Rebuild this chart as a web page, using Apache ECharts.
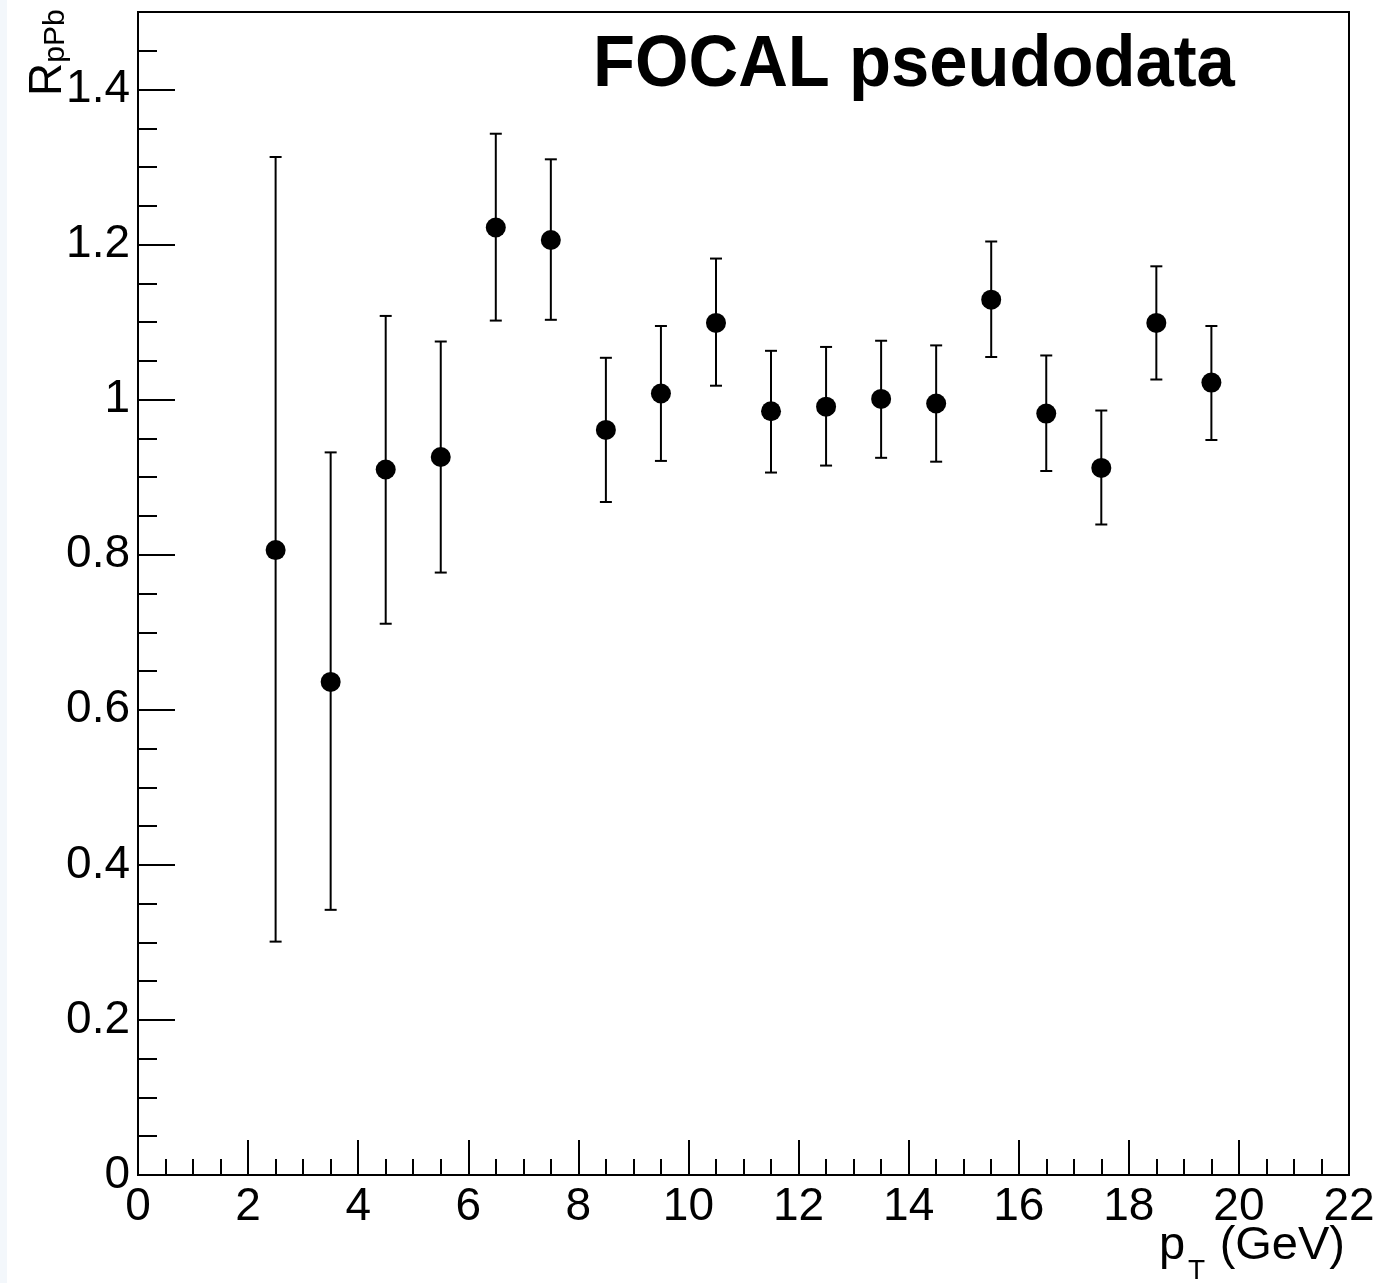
<!DOCTYPE html>
<html>
<head>
<meta charset="utf-8">
<script src="https://cdn.jsdelivr.net/npm/echarts@6/dist/echarts.min.js"></script>
<style>
  html, body { margin: 0; padding: 0; background: #fff; }
  #chart { width: 1400px; height: 1283px; }
</style>
</head>
<body>
<div id="chart"></div>
<script>
const ptCenters = [2.5, 3.5, 4.5, 5.5, 6.5, 7.5, 8.5, 9.5, 10.5, 11.5, 12.5, 13.5, 14.5, 15.5, 16.5, 17.5, 18.5, 19.5]
const rpPb = [0.806, 0.636, 0.910, 0.926, 1.222, 1.206, 0.961, 1.008, 1.099, 0.985, 0.991, 1.001, 0.995, 1.129, 0.982, 0.912, 1.099, 1.022]
const errLow = [0.301, 0.342, 0.711, 0.777, 1.102, 1.103, 0.868, 0.921, 1.018, 0.906, 0.915, 0.925, 0.920, 1.055, 0.908, 0.839, 1.026, 0.948]
const errHigh = [1.313, 0.932, 1.108, 1.075, 1.343, 1.310, 1.054, 1.095, 1.182, 1.063, 1.068, 1.076, 1.070, 1.204, 1.057, 0.986, 1.172, 1.095]

const FONT = '"Liberation Sans", Arial, Helvetica, sans-serif'
const TEXT_COLOR = '#000'

const chart = echarts.init(document.getElementById('chart'))

chart.setOption({
  animation: false,
  backgroundColor: '#fff',
  grid: {
    left: 138,
    top: 12,
    right: 51,
    bottom: 108,
    show: true,
    borderColor: '#000',
    borderWidth: 2,
  },
  xAxis: {
    type: 'value',
    min: 0,
    max: 22,
    interval: 2,
    axisLine: { lineStyle: { color: '#000', width: 2 } },
    axisTick: { inside: true, length: 35, lineStyle: { color: '#000', width: 2 } },
    minorTick: { show: true, splitNumber: 4, length: 16, lineStyle: { color: '#000', width: 2 } },
    splitLine: { show: false },
    axisLabel: { color: TEXT_COLOR, fontSize: 46, fontFamily: FONT, margin: 9 },
  },
  yAxis: {
    type: 'value',
    min: 0,
    max: 1.5,
    interval: 0.2,
    axisLine: { lineStyle: { color: '#000', width: 2 } },
    axisTick: { inside: true, length: 37, lineStyle: { color: '#000', width: 2 } },
    minorTick: { show: true, splitNumber: 4, length: 19, lineStyle: { color: '#000', width: 2 } },
    splitLine: { show: false },
    axisLabel: {
      color: TEXT_COLOR,
      fontSize: 46,
      fontFamily: FONT,
      margin: 8,
      showMaxLabel: false,
      formatter: (v) => (Math.abs(v - 1.5) < 1e-9 ? '' : String(Math.round(v * 10) / 10)),
    },
  },
  graphic: [
    {
      type: 'rect',
      shape: { x: 0, y: 0, width: 7, height: 1283 },
      style: { fill: '#f3f7fb' },
      silent: true,
    },
    {
      type: 'text',
      x: 593,
      y: 30,
      scaleX: 0.955,
      style: {
        text: 'FOCAL pseudodata',
        font: 'bold 72px ' + FONT,
        fill: TEXT_COLOR,
      },
    },
    {
      type: 'text',
      x: 22,
      y: 96,
      rotation: Math.PI / 2,
      style: {
        text: '{r|R}{s|pPb}',
        fill: TEXT_COLOR,
        rich: {
          r: { fontSize: 46, fontFamily: FONT, fill: TEXT_COLOR, lineHeight: 52 },
          s: { fontSize: 30, fontFamily: FONT, fill: TEXT_COLOR, padding: [16, 0, 0, 0], lineHeight: 52 },
        },
      },
    },
    {
      type: 'text',
      x: 1345,
      y: 1246,
      style: {
        text: '(GeV)',
        font: '47px ' + FONT,
        fill: TEXT_COLOR,
        align: 'right',
        verticalAlign: 'middle',
      },
    },
    {
      type: 'text',
      x: 1159,
      y: 1246,
      style: {
        text: 'p',
        font: '47px ' + FONT,
        fill: TEXT_COLOR,
        align: 'left',
        verticalAlign: 'middle',
      },
    },
    {
      type: 'text',
      x: 1188,
      y: 1271,
      style: {
        text: 'T',
        font: '28px ' + FONT,
        fill: TEXT_COLOR,
        align: 'left',
        verticalAlign: 'middle',
      },
    },
  ],
  series: [
    {
      type: 'custom',
      data: ptCenters.map((x, i) => [x, errLow[i], errHigh[i]]),
      renderItem: (params, api) => {
        const lo = api.coord([api.value(0), api.value(1)])
        const hi = api.coord([api.value(0), api.value(2)])
        const cap = 6
        const style = { stroke: '#000', lineWidth: 2 }
        return {
          type: 'group',
          children: [
            { type: 'line', shape: { x1: lo[0], y1: lo[1], x2: hi[0], y2: hi[1] }, style },
            { type: 'line', shape: { x1: hi[0] - cap, y1: hi[1], x2: hi[0] + cap, y2: hi[1] }, style },
            { type: 'line', shape: { x1: lo[0] - cap, y1: lo[1], x2: lo[0] + cap, y2: lo[1] }, style },
          ],
        }
      },
      z: 2,
    },
    {
      type: 'scatter',
      data: ptCenters.map((x, i) => [x, rpPb[i]]),
      symbol: 'circle',
      symbolSize: 20,
      itemStyle: { color: '#000', opacity: 1 },
      z: 3,
    },
  ],
})
</script>
</body>
</html>
